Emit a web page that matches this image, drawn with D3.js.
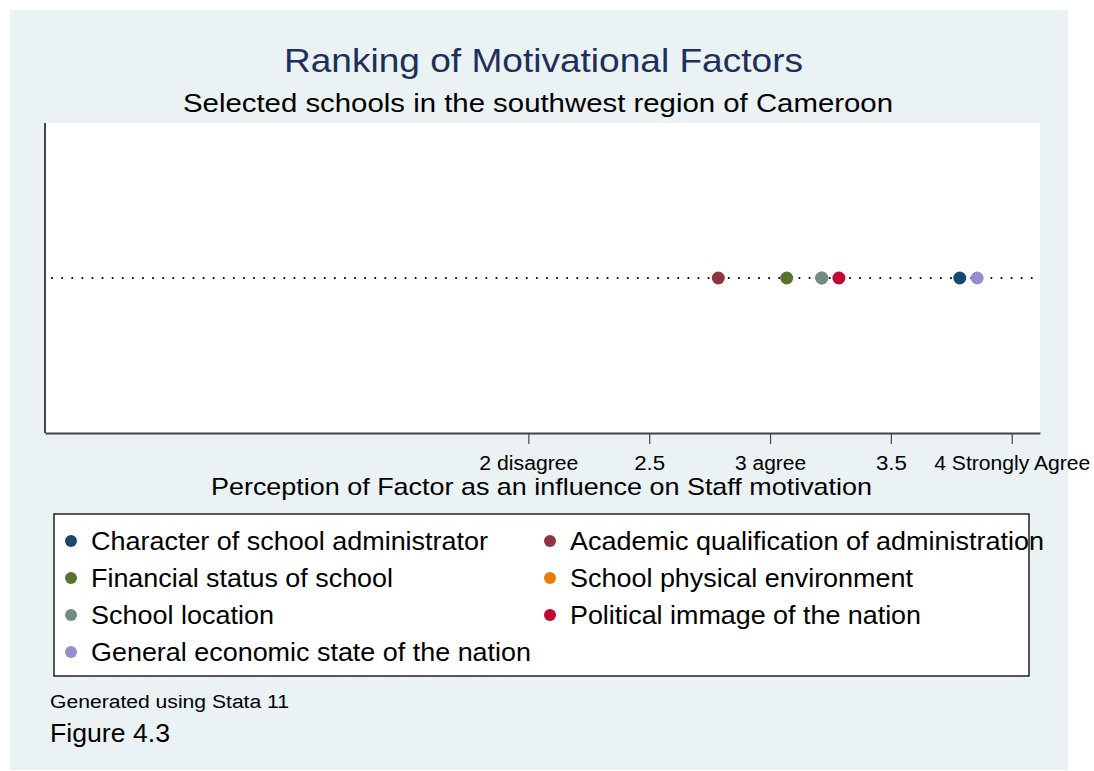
<!DOCTYPE html>
<html>
<head>
<meta charset="UTF-8" />
<title>Ranking of Motivational Factors</title>
<script src="https://cdn.jsdelivr.net/npm/d3@7/dist/d3.min.js"></script>
<style>
  body { margin: 0; background: #fff; }
  svg { display: block; font-family: "Liberation Sans", Arial, sans-serif; }
</style>
</head>
<body>
<svg width="1094" height="771"></svg>
<script>
// factor names, mean scores and marker colours (same order as the legend)
var factors = [
    "Character of school administrator",
    "Academic qualification of administration",
    "Financial status of school",
    "School physical environment",
    "School location",
    "Political immage of the nation",
    "General economic state of the nation"
]
var scores = [3.785, 2.786, 3.069, 3.214, 3.214, 3.285, 3.857]
var colors = ["#1a476f", "#90353b", "#55752f", "#e37e00", "#6e8e84", "#c10534", "#938dd2"]

var tickValues = [2, 2.5, 3, 3.5, 4]
var tickLabels = ["2 disagree", "2.5", "3 agree", "3.5", "4 Strongly Agree"]

// the original text is drawn a little wider than Liberation Sans, stretch to fit
function stretch(sel, w) {
    sel.attr("textLength", w).attr("lengthAdjust", "spacingAndGlyphs")
}

var svg = d3.select("svg")

svg.append("rect")
    .attr("x", 10).attr("y", 10)
    .attr("width", 1058).attr("height", 760)
    .attr("fill", "#eaf2f3")

var plotL = 45, plotR = 1040, plotT = 123, plotB = 433

svg.append("rect")
    .attr("x", plotL).attr("y", plotT)
    .attr("width", plotR - plotL).attr("height", plotB - plotT)
    .attr("fill", "#fff")

var xScale = d3.scaleLinear().domain([0, 4.117]).range([plotL, plotR])

// titles
svg.append("text")
    .attr("x", 284).attr("y", 72)
    .style("font-size", "34px")
    .style("fill", "#1e2f5b")
    .text("Ranking of Motivational Factors")
    .call(stretch, 519)

svg.append("text")
    .attr("x", 183).attr("y", 112)
    .style("font-size", "26px")
    .style("fill", "#000")
    .text("Selected schools in the southwest region of Cameroon")
    .call(stretch, 710)

// left axis line
svg.append("line")
    .attr("x1", plotL).attr("x2", plotL)
    .attr("y1", plotT).attr("y2", plotB)
    .attr("stroke", "#444").attr("stroke-width", 2)

// bottom axis
var xAxis = d3.axisBottom(xScale)
    .tickValues(tickValues)
    .tickSize(11)
    .tickSizeOuter(0)
    .tickPadding(8)
    .tickFormat(function (d, i) { return tickLabels[i] })

var axisG = svg.append("g")
    .attr("transform", "translate(0," + plotB + ")")
    .call(xAxis)
axisG.select(".domain").attr("stroke", "#444").attr("stroke-width", 2)
axisG.selectAll(".tick line").attr("stroke", "#444").attr("stroke-width", 1.2)
var tickWidths = [99, 31, 71, 31, 156]
axisG.selectAll(".tick text")
    .attr("dy", null)
    .attr("y", 37)
    .style("font-size", "20px")
    .style("fill", "#000")
    .style("font-family", "'Liberation Sans', Arial, sans-serif")
    .each(function (d, i) { d3.select(this).call(stretch, tickWidths[i]) })

svg.append("text")
    .attr("x", 211).attr("y", 495)
    .style("font-size", "24px")
    .text("Perception of Factor as an influence on Staff motivation")
    .call(stretch, 661)

// dotted guide line
var lineY = 278
svg.append("line")
    .attr("x1", plotL + 7).attr("x2", plotR)
    .attr("y1", lineY).attr("y2", lineY)
    .attr("stroke", "#000")
    .attr("stroke-width", 2)
    .attr("stroke-linecap", "round")
    .attr("stroke-dasharray", "0.1 10")

// markers
svg.selectAll("circle.pt")
    .data(scores)
    .enter()
    .append("circle")
    .attr("class", "pt")
    .attr("cx", d => xScale(d))
    .attr("cy", lineY)
    .attr("r", 6.5)
    .attr("fill", (d, i) => colors[i])

// legend
svg.append("rect")
    .attr("x", 54).attr("y", 514)
    .attr("width", 975).attr("height", 162)
    .attr("fill", "#fff")
    .attr("stroke", "#000")
    .attr("stroke-width", 1.3)

var legendWidths = [397, 474, 302, 343, 183, 351, 440]
var legend = svg.selectAll("g.leg")
    .data(factors)
    .enter()
    .append("g")
    .attr("class", "leg")
    .attr("transform", function (d, i) {
        var col = i % 2, row = Math.floor(i / 2)
        return "translate(" + (col ? 550 : 71) + "," + (541 + row * 37) + ")"
    })

legend.append("circle")
    .attr("r", 6)
    .attr("fill", (d, i) => colors[i])

legend.append("text")
    .attr("x", 20).attr("y", 9)
    .style("font-size", "25px")
    .text(d => d)
    .each(function (d, i) { d3.select(this).call(stretch, legendWidths[i]) })

// notes
svg.append("text")
    .attr("x", 50).attr("y", 708)
    .style("font-size", "18px")
    .text("Generated using Stata 11")
    .call(stretch, 239)

svg.append("text")
    .attr("x", 50).attr("y", 742)
    .style("font-size", "25px")
    .text("Figure 4.3")
    .call(stretch, 120)
</script>
</body>
</html>
